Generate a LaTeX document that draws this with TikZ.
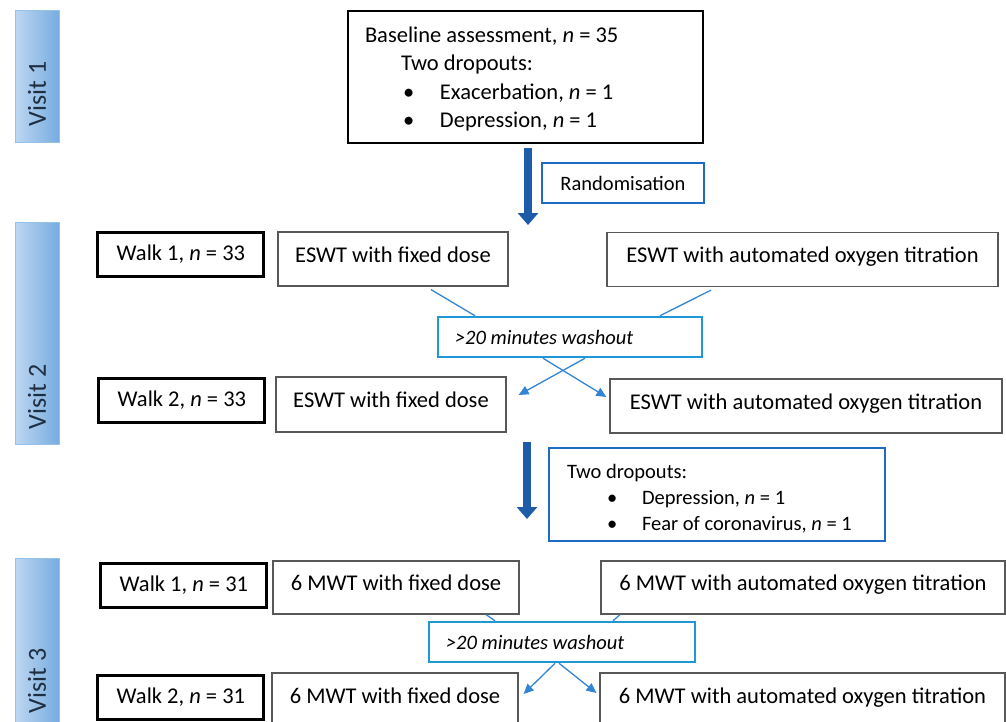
\documentclass[tikz,border=0pt]{standalone}
\usepackage{fontspec}
\setmainfont{Carlito}
\usepackage{xcolor}
\usepackage{tikz}
\usetikzlibrary{arrows.meta, positioning, calc}
\definecolor{visitlight}{RGB}{190,215,241}
\definecolor{visitdark}{RGB}{118,172,224}
\definecolor{visitedge}{RGB}{150,193,233}
\definecolor{visittext}{RGB}{32,46,66}
\definecolor{arrowblue}{RGB}{30,92,170}
\definecolor{randblue}{RGB}{28,108,196}
\definecolor{washblue}{RGB}{32,152,216}
\definecolor{linkblue}{RGB}{52,132,212}
\definecolor{boxgray}{RGB}{88,88,88}
\tikzset{
    % Visit bars on the left
    visitbar/.style={rectangle, left color=visitlight, right color=visitdark, draw=visitedge, line width=1pt, minimum width=44pt, inner sep=0pt},
    visitlabel/.style={rotate=90, anchor=west, inner sep=0pt, text=visittext, font=\fontsize{26}{30}\selectfont},
    % Boxes
    basebox/.style={rectangle, draw=black, line width=1.6pt, minimum width=355pt, minimum height=132pt, text width=321pt, inner xsep=17pt, align=flush left, font=\fontsize{22.5}{28.5}\selectfont},
    walkbox/.style={rectangle, draw=black, line width=3pt, minimum width=166pt, minimum height=44pt, inner sep=0pt, font=\fontsize{22.5}{27}\selectfont},
    armbox/.style={rectangle, draw=boxgray, line width=1.2pt, minimum height=54pt, inner sep=0pt, text height=15pt, text depth=9pt, font=\fontsize{22.5}{27}\selectfont},
    randbox/.style={rectangle, draw=randblue, line width=2.5pt, minimum width=162pt, minimum height=40pt, inner sep=0pt, font=\fontsize{20.5}{24}\selectfont},
    washbox/.style={rectangle, draw=washblue, line width=2.5pt, minimum height=40pt, inner xsep=17pt, inner ysep=0pt, align=flush left, font=\fontsize{20.5}{24}\selectfont\itshape},
    dropbox/.style={rectangle, draw=randblue, line width=2.5pt, minimum width=336pt, minimum height=93pt, text width=300pt, inner xsep=18pt, align=flush left, font=\fontsize{20.5}{26}\selectfont},
    % Arrow styles
    bigarrow/.style={-{Triangle[length=12pt, width=20pt]}, line width=8pt, draw=arrowblue},
    linkline/.style={draw=linkblue, line width=1.3pt},
    linkarrow/.style={linkline, -{Triangle[length=10pt, width=9pt]}},
}

\begin{document}
\begin{tikzpicture}[x=1pt, y=-1pt]
\useasboundingbox (0,0) rectangle (1006,722);

% ============================================================
% Visit bars
% ============================================================
\node[visitbar, minimum height=132pt] (visit1) at (37,77) {};
\node[visitbar, minimum height=222pt] (visit2) at (37,333) {};
\node[visitbar, minimum height=164pt] (visit3) at (37,640) {};
\node[visitlabel] (visit1lbl) at ([yshift=17pt]visit1.south) {Visit 1};
\node[visitlabel] (visit2lbl) at ([yshift=15pt]visit2.south) {Visit 2};
\node[visitlabel] (visit3lbl) at ([yshift=9pt]visit3.south) {Visit 3};

% ============================================================
% Visit 1: baseline
% ============================================================
\node[basebox] (base) at (525.5,77) {\rule{0pt}{20pt}Baseline assessment, \textit{n} = 35\\
\hspace*{36pt}Two dropouts:\\
\hspace*{38pt}\makebox[37pt][l]{\textbullet}Exacerbation, \textit{n} = 1\\
\hspace*{38pt}\makebox[37pt][l]{\textbullet}Depression, \textit{n} = 1};

\coordinate (split1) at (528,225);
\draw[bigarrow] ($(base.south -| split1)+(0,4)$) -- (split1);
\node[randbox] (rand) at (623,183) {Randomisation};

% ============================================================
% Visit 2: ESWT
% ============================================================
\node[armbox, minimum width=230pt] (fixA) at (393,259) {ESWT with fixed dose};
\node[armbox, minimum width=391pt] (autoA) at (802.5,259.5) {ESWT with automated oxygen titration};
\node[walkbox, left=12pt of fixA, yshift=4.5pt] (walkA) {Walk 1, \textit{n} = 33};

\node[washbox, minimum width=264pt, text width=230pt] (wash1) at (570,337) {\textgreater20 minutes washout};

\node[armbox, minimum width=230pt, minimum height=55pt] (fixB) at (391,404.5) {ESWT with fixed dose};
\node[armbox, minimum width=392pt] (autoB) at (806,406) {ESWT with automated oxygen titration};
\node[walkbox, left=9pt of fixB, yshift=4pt] (walkB) {Walk 2, \textit{n} = 33};

\draw[linkline] ([xshift=38pt, yshift=-3pt]fixA.south) -- ([xshift=-95pt]wash1.north);
\draw[linkline] ([xshift=-91.5pt, yshift=-3pt]autoA.south) -- ([xshift=90pt]wash1.north);
\draw[linkarrow] ([xshift=-27pt]wash1.south) -- ([xshift=-3pt, yshift=9pt]autoB.west);
\draw[linkarrow] ([xshift=15pt]wash1.south) -- ([xshift=12pt, yshift=9.5pt]fixB.east);

% Dropouts before visit 3
\coordinate (split2) at (527,519);
\draw[bigarrow] ($(fixB.south -| split2)+(0,9)$) -- (split2);
\node[dropbox] (drop) at (717,494.5) {\rule{0pt}{22pt}Two dropouts:\\
\hspace*{40pt}\makebox[35pt][l]{\textbullet}Depression, \textit{n} = 1\\
\hspace*{40pt}\makebox[35pt][l]{\textbullet}Fear of coronavirus, \textit{n} = 1};

% ============================================================
% Visit 3: 6 MWT
% ============================================================
\node[armbox, minimum width=246pt, minimum height=53pt] (fixC) at (396,587.5) {6 MWT with fixed dose};
\node[armbox, minimum width=404pt, minimum height=53pt] (autoC) at (803,587.5) {6 MWT with automated oxygen titration};
\node[walkbox, left=4pt of fixC, yshift=2.5pt] (walkC) {Walk 1, \textit{n} = 31};

\node[washbox, minimum width=266pt, text width=232pt] (wash2) at (562,642) {\textgreater20 minutes washout};

\node[armbox, minimum width=246pt] (fixD) at (395,700) {6 MWT with fixed dose};
\node[armbox, minimum width=405pt] (autoD) at (802.5,700) {6 MWT with automated oxygen titration};
\node[walkbox, left=6pt of fixD, yshift=3pt] (walkD) {Walk 2, \textit{n} = 31};

\draw[linkline] ([xshift=90pt]fixC.south) -- ([xshift=-67pt]wash2.north);
\draw[linkline] ([xshift=-183pt]autoC.south) -- ([xshift=51pt]wash2.north);
\draw[linkarrow] ([xshift=-7pt]wash2.south) -- ([xshift=5pt, yshift=6pt]fixD.east);
\draw[linkarrow] ([xshift=-3pt]wash2.south) -- ([xshift=-3pt, yshift=7pt]autoD.west);

\end{tikzpicture}
\end{document}
